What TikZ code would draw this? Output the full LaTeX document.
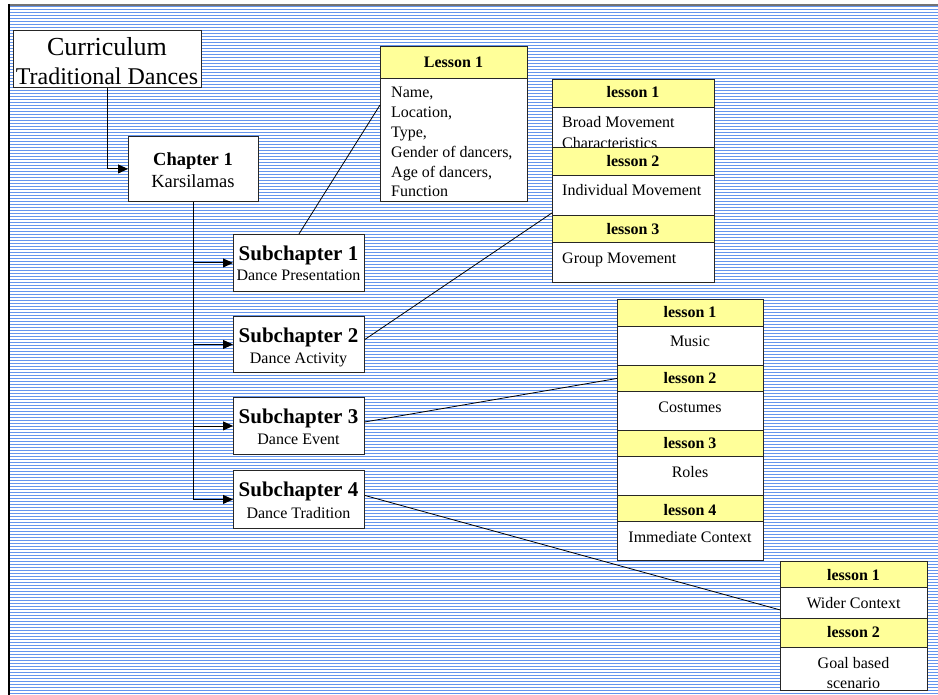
\documentclass[tikz,border=0pt]{standalone}
\usepackage{fontspec}
\setmainfont{Liberation Serif}
\usetikzlibrary{arrows.meta,calc}
\definecolor{stripeblue}{RGB}{100,149,237}
\definecolor{hdryellow}{RGB}{255,255,153}
\begin{document}
\begin{tikzpicture}[x=1pt,y=-1pt,
 box/.style={draw=black!85,line width=0.9pt,fill=white,inner sep=0pt,anchor=north west},
 hdr/.style={box,fill=hdryellow},
 txt/.style={inner sep=0pt,anchor=base,font=\fontsize{16}{19.8}\selectfont},
 ltxt/.style={txt,anchor=base west,align=left},
 htxt/.style={inner sep=0pt,anchor=base,font=\fontsize{16}{18}\selectfont\bfseries},
 ttl/.style={inner sep=0pt,anchor=base,font=\fontsize{21}{22}\selectfont\bfseries},
 conn/.style={line width=0.8pt,draw=black},
 arr/.style={line width=0.9pt,draw=black,-{Triangle[length=10pt,width=9pt]}}]
\useasboundingbox (0,0) rectangle (938,695);
% background
\fill[white] (0,0) rectangle (938,695);
\foreach \yy in {6.5,9.5,...,694.5}
  \draw[stripeblue,line width=1.2pt] (9,\yy) -- (938,\yy);
\draw[black!55,line width=2pt] (9,5) -- (938,5);
\draw[black,line width=1.5pt] (9,4) -- (9,695);

% curriculum
\node[box,minimum width=188pt,minimum height=57pt] (cur) at (13,30) {};
\node[inner sep=0pt,anchor=base,font=\fontsize{26}{28}\selectfont] (curA) at (107,56) {Curriculum};
\node[inner sep=0pt,anchor=base,font=\fontsize{24}{26}\selectfont] (curB) at (107,85) {Traditional Dances};

% chapter
\node[box,minimum width=130pt,minimum height=65pt] (ch) at (128,136) {};
\node[inner sep=0pt,anchor=base,font=\fontsize{18.5}{20}\selectfont\bfseries] (chA) at (193,166) {Chapter 1};
\node[inner sep=0pt,anchor=base,font=\fontsize{18.5}{20}\selectfont] (chB) at (193,188) {Karsilamas};

% subchapters
\node[box,minimum width=131pt,minimum height=57pt] (sub1) at (233,234) {};
\node[ttl] (sub1A) at (298.5,260.5) {Subchapter 1};
\node[txt] (sub1B) at (298.5,281) {Dance Presentation};
\node[box,minimum width=131pt,minimum height=56pt] (sub2) at (233,316) {};
\node[ttl] (sub2A) at (298.5,342.5) {Subchapter 2};
\node[txt] (sub2B) at (298.5,363) {Dance Activity};
\node[box,minimum width=131pt,minimum height=57pt] (sub3) at (233,397) {};
\node[ttl] (sub3A) at (298.5,423.5) {Subchapter 3};
\node[txt] (sub3B) at (298.5,444) {Dance Event};
\node[box,minimum width=131pt,minimum height=58pt] (sub4) at (233,470) {};
\node[ttl] (sub4A) at (298.5,496.5) {Subchapter 4};
\node[txt] (sub4B) at (298.5,518) {Dance Tradition};

% lesson box for subchapter 1
\node[hdr,minimum width=147pt,minimum height=32pt] (l1h) at (380,46) {};
\node[htxt] (l1hT) at (453.5,68) {Lesson 1};
\node[box,minimum width=147pt,minimum height=123pt] (l1b) at (380,78) {};
\node[ltxt] (l1bT) at (391,197) {Name,\\Location,\\Type,\\Gender of dancers,\\Age of dancers,\\Function};

% group 2
\node[hdr,minimum width=162pt,minimum height=28pt] (g2h1) at (552,79) {};
\node[htxt] (g2h1T) at (633,98) {lesson 1};
\node[box,minimum width=162pt,minimum height=40pt] (g2b1) at (552,107) {};
\node[ltxt] (g2b1T) at (562,148.5) {Broad Movement\\[1.5pt]Characteristics};
\node[hdr,minimum width=162pt,minimum height=28pt] (g2h2) at (552,147) {};
\node[htxt] (g2h2T) at (633,167) {lesson 2};
\node[box,minimum width=162pt,minimum height=40pt] (g2b2) at (552,175) {};
\node[ltxt] (g2b2T) at (562,196) {Individual Movement};
\node[hdr,minimum width=162pt,minimum height=27pt] (g2h3) at (552,215) {};
\node[htxt] (g2h3T) at (633,235) {lesson 3};
\node[box,minimum width=162pt,minimum height=40pt] (g2b3) at (552,242) {};
\node[ltxt] (g2b3T) at (562,264) {Group Movement};

% group 3
\node[hdr,minimum width=146pt,minimum height=27pt] (g3h1) at (617,299) {};
\node[htxt] (g3h1T) at (690,318) {lesson 1};
\node[box,minimum width=146pt,minimum height=39pt] (g3b1) at (617,326) {};
\node[txt] (g3b1T) at (690,347) {Music};
\node[hdr,minimum width=146pt,minimum height=26pt] (g3h2) at (617,365) {};
\node[htxt] (g3h2T) at (690,383) {lesson 2};
\node[box,minimum width=146pt,minimum height=39pt] (g3b2) at (617,391) {};
\node[txt] (g3b2T) at (690,412) {Costumes};
\node[hdr,minimum width=146pt,minimum height=26pt] (g3h3) at (617,430) {};
\node[htxt] (g3h3T) at (690,448) {lesson 3};
\node[box,minimum width=146pt,minimum height=39pt] (g3b3) at (617,456) {};
\node[txt] (g3b3T) at (690,477) {Roles};
\node[hdr,minimum width=146pt,minimum height=26pt] (g3h4) at (617,495) {};
\node[htxt] (g3h4T) at (690,515) {lesson 4};
\node[box,minimum width=146pt,minimum height=39pt] (g3b4) at (617,521) {};
\node[txt] (g3b4T) at (690,542) {Immediate Context};

% group 4
\node[hdr,minimum width=147pt,minimum height=26pt] (g4h1) at (780,561) {};
\node[htxt] (g4h1T) at (853.5,580) {lesson 1};
\node[box,minimum width=147pt,minimum height=31pt] (g4b1) at (780,587) {};
\node[txt] (g4b1T) at (853.5,608) {Wider Context};
\node[hdr,minimum width=147pt,minimum height=29pt] (g4h2) at (780,618) {};
\node[htxt] (g4h2T) at (853.5,637) {lesson 2};
\node[box,minimum width=147pt,minimum height=43pt] (g4b2) at (780,647) {};
\node[txt,align=center] (g4b2T) at (853.5,688) {Goal based\\scenario};

% connectors
\draw[arr] (cur.south) |- (ch.west);
\draw[conn] (ch.south) -- (ch.south |- sub4.west);
\draw[arr] (ch.south |- sub1.west) -- (sub1.west);
\draw[arr] (ch.south |- sub2.west) -- (sub2.west);
\draw[arr] (ch.south |- sub3.west) -- (sub3.west);
\draw[arr] (ch.south |- sub4.west) -- (sub4.west);
\draw[conn] (sub1.north) -- ($(l1b.north west)+(0,27)$);
\draw[conn] ($(sub2.east)+(0,-5)$) -- ($(g2b2.south west)+(0,-3)$);
\draw[conn] ($(sub3.east)+(0,-4)$) -- (g3h2.west);
\draw[conn] ($(sub4.east)+(0,-4)$) -- ($(g4b1.south west)+(0,-9)$);
\end{tikzpicture}
\end{document}
